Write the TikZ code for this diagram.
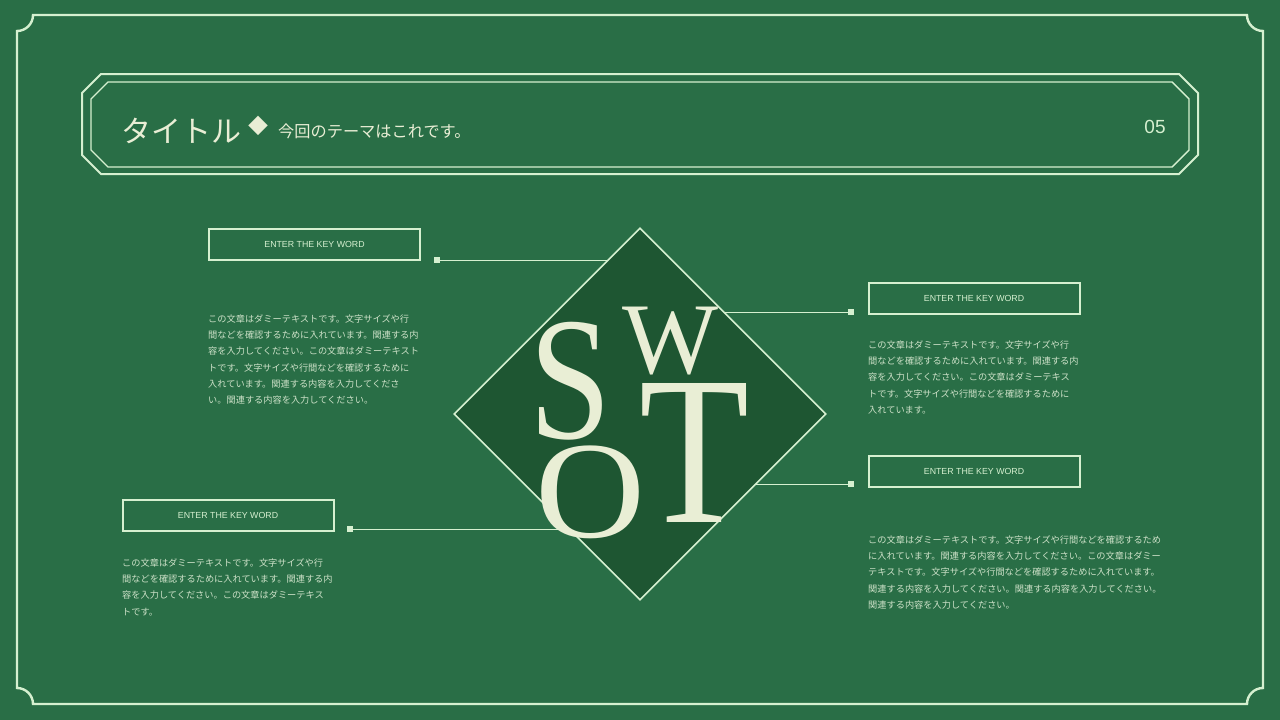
\documentclass[tikz,border=0pt]{standalone}
\usepackage{fontspec}
\usepackage{graphicx}
\setmainfont{Liberation Serif}
\setsansfont{Liberation Sans}
\newfontfamily\cjk{Noto Sans CJK JP}
\usetikzlibrary{shapes.geometric}
\definecolor{bggreen}{RGB}{41,110,70}
\definecolor{dkgreen}{RGB}{30,86,50}
\definecolor{mint}{RGB}{214,240,208}
\definecolor{cream}{RGB}{233,238,213}
\definecolor{bodytxt}{RGB}{205,225,200}
\tikzset{
  frameline/.style={draw=mint,line width=2.4pt},
  titleline/.style={draw=mint,line width=2pt},
  keybox/.style={draw=mint,line width=2pt,minimum width=211pt,minimum height=31pt,inner sep=0pt,
     text=mint,font=\sffamily\fontsize{8.8}{10}\selectfont},
  dotsq/.style={fill=mint,minimum size=6pt,inner sep=0pt},
  connline/.style={draw=mint,line width=0.8pt},
  bodyblock/.style={anchor=north west,inner sep=0pt,align=left,text=bodytxt,
     font=\cjk\fontsize{9.2}{16.2}\selectfont},
  swot/.style={text=cream,inner sep=0pt,anchor=center,font=\rmfamily\fontsize{150}{150}\selectfont}
}
\begin{document}
\begin{tikzpicture}[x=1pt,y=-1pt]
\useasboundingbox (0,0) rectangle (1280,720);
\fill[bggreen] (0,0) rectangle (1280,720);
% outer frame
\draw[frameline] (33,15) -- (1247,15) .. controls (1247,23.84) and (1254.16,31) .. (1263,31)
  -- (1263,688) .. controls (1254.16,688) and (1247,695.16) .. (1247,704)
  -- (33,704) .. controls (33,695.16) and (25.84,688) .. (17,688)
  -- (17,31) .. controls (25.84,31) and (33,23.84) .. (33,15) -- cycle;
% title octagons
\draw[titleline] (101,74) -- (1179,74) -- (1198,93) -- (1198,155) -- (1179,174) -- (101,174) -- (82,155) -- (82,93) -- cycle;
\draw[titleline,line width=1.4pt] (108,82) -- (1172,82) -- (1189,99) -- (1189,150) -- (1172,167) -- (108,167) -- (91,150) -- (91,99) -- cycle;
\node[anchor=base west,inner sep=0pt,text=cream,font=\cjk\fontsize{30}{30}\selectfont] (title) at (121,142) {タイトル};
\node[inner sep=0pt,text=cream,font=\cjk\fontsize{20}{20}\selectfont] (mark) at (258,126) {◆};
\node[anchor=base west,inner sep=0pt,text=cream,font=\cjk\fontsize{16.2}{16}\selectfont] (subtitle) at (278,137) {今回のテーマはこれです。};
\node[inner sep=0pt,text=mint,font=\sffamily\fontsize{19}{19}\selectfont] (pagenum) at (1155,127) {05};
% keyword boxes
\node[keybox] (k1) at (314.5,244.5) {ENTER THE KEY WORD};
\node[keybox] (k2) at (974,298.5) {ENTER THE KEY WORD};
\node[keybox] (k3) at (974,471.5) {ENTER THE KEY WORD};
\node[keybox] (k4) at (228,515.5) {ENTER THE KEY WORD};
% connector squares
\node[dotsq] (s1) at (437,260) {};
\node[dotsq] (s2) at (851,312) {};
\node[dotsq] (s3) at (851,484) {};
\node[dotsq] (s4) at (350,529) {};
\coordinate (dc) at (640,414);
\draw[connline] (s1) -- (s1 -| dc);
\draw[connline] (s2) -- (s2 -| dc);
\draw[connline] (s3) -- (s3 -| dc);
\draw[connline] (s4) -- (s4 -| dc);
% diamond
\node[diamond,shape aspect=1,draw=mint,fill=dkgreen,line width=1.6pt,minimum width=372pt,minimum height=372pt,inner sep=0pt] (dia) at (dc) {};
% SWOT letters
\node[swot] (S) at (570,381) {\resizebox*{82pt}{118pt}{S}};
\node[swot] (W) at (670,341) {\resizebox*{96pt}{68pt}{W}};
\node[swot] (T) at (694.5,453) {\resizebox*{110pt}{139pt}{T}};
\node[swot] (O) at (590,492.5) {\resizebox*{110pt}{93pt}{O}};
% body texts
\node[bodyblock] (b1) at (208,314.5) {この文章はダミーテキストです。文字サイズや行\\間などを確認するために入れています。関連する内\\容を入力してください。この文章はダミーテキスト\\トです。文字サイズや行間などを確認するために\\入れています。関連する内容を入力してくださ\\い。関連する内容を入力してください。};
\node[bodyblock] (b2) at (868,340.5) {この文章はダミーテキストです。文字サイズや行\\間などを確認するために入れています。関連する内\\容を入力してください。この文章はダミーテキス\\トです。文字サイズや行間などを確認するために\\入れています。};
\node[bodyblock] (b3) at (122,558.5) {この文章はダミーテキストです。文字サイズや行\\間などを確認するために入れています。関連する内\\容を入力してください。この文章はダミーテキス\\トです。};
\node[bodyblock] (b4) at (868,535.5) {この文章はダミーテキストです。文字サイズや行間などを確認するため\\に入れています。関連する内容を入力してください。この文章はダミー\\テキストです。文字サイズや行間などを確認するために入れています。\\関連する内容を入力してください。関連する内容を入力してください。\\関連する内容を入力してください。};
\end{tikzpicture}
\end{document}
